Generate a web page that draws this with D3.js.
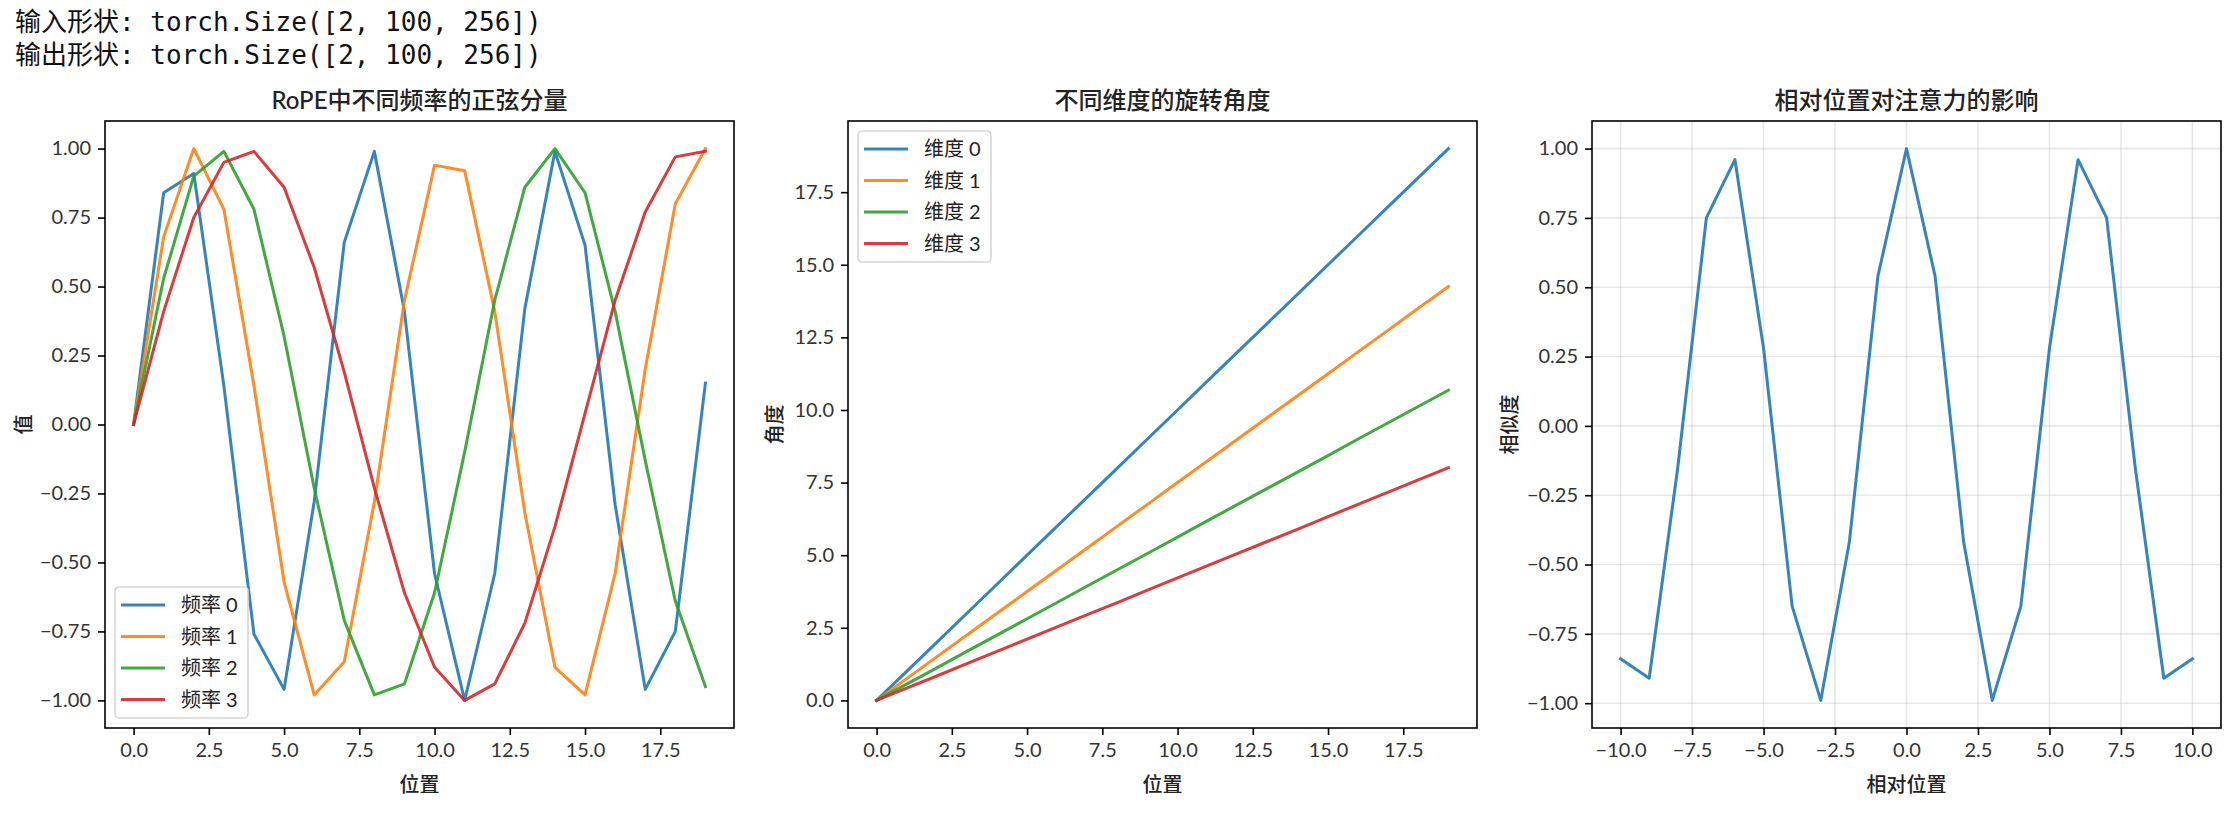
<!DOCTYPE html>
<html>
<head>
<meta charset="utf-8">
<script src="https://cdn.jsdelivr.net/npm/d3@7"></script>
<style>
  body { margin: 0; background: #fff; }
  svg text { font-family: 'Lato', 'Noto Sans CJK SC', sans-serif; fill: #222; }
  .mono { font-family: 'DejaVu Sans Mono', 'Noto Sans CJK SC', monospace; }
</style>
</head>
<body>
<svg id="fig" width="2238" height="818"></svg>
<script>
// printed output above the figure
const headerLines = ['输入形状: torch.Size([2, 100, 256])', '输出形状: torch.Size([2, 100, 256])'];

// panel 1: sine components at positions 0..19
const positions = [0,1,2,3,4,5,6,7,8,9,10,11,12,13,14,15,16,17,18,19];
const freq0 = [0,0.84,0.91,0.14,-0.76,-0.96,-0.28,0.66,0.99,0.41,-0.54,-1.00,-0.54,0.42,0.99,0.65,-0.29,-0.96,-0.75,0.15];
const freq1 = [0,0.68,1.00,0.78,0.14,-0.57,-0.98,-0.86,-0.28,0.45,0.94,0.92,0.41,-0.32,-0.88,-0.98,-0.54,0.20,0.80,1.00];
const freq2 = [0,0.53,0.90,0.99,0.78,0.32,-0.23,-0.71,-0.98,-0.94,-0.61,-0.10,0.45,0.86,1.00,0.84,0.41,-0.13,-0.64,-0.95];
const freq3 = [0,0.41,0.75,0.95,0.99,0.86,0.57,0.19,-0.23,-0.61,-0.88,-1.00,-0.94,-0.72,-0.37,0.04,0.45,0.77,0.97,0.99];
const freqNames = ['频率 0','频率 1','频率 2','频率 3'];

// panel 2: rotation angle per dimension
const dim0 = [0,1,2,3,4,5,6,7,8,9,10,11,12,13,14,15,16,17,18,19];
const dim1 = [0,0.75,1.50,2.25,3.00,3.75,4.50,5.25,6.00,6.75,7.50,8.25,9.00,9.75,10.50,11.25,12.00,12.75,13.50,14.25];
const dim2 = [0,0.56,1.12,1.69,2.25,2.81,3.37,3.94,4.50,5.06,5.62,6.19,6.75,7.31,7.87,8.43,9.00,9.56,10.12,10.68];
const dim3 = [0,0.42,0.84,1.27,1.69,2.11,2.53,2.95,3.37,3.80,4.22,4.64,5.06,5.48,5.90,6.33,6.75,7.17,7.59,8.01];
const dimNames = ['维度 0','维度 1','维度 2','维度 3'];

// panel 3: similarity vs relative position
const relPos = [-10,-9,-8,-7,-6,-5,-4,-3,-2,-1,0,1,2,3,4,5,6,7,8,9,10];
const similarity = [-0.84,-0.91,-0.15,0.75,0.96,0.28,-0.65,-0.99,-0.42,0.54,1.00,0.54,-0.42,-0.99,-0.65,0.28,0.96,0.75,-0.15,-0.91,-0.84];

const tickA = [0,2.5,5,7.5,10,12.5,15,17.5];
const tickUnit = [-1,-0.75,-0.5,-0.25,0,0.25,0.5,0.75,1];
const tickRel = [-10,-7.5,-5,-2.5,0,2.5,5,7.5,10];

const colors = ['#1f77b4','#ff7f0e','#2ca02c','#d62728'];

const svg = d3.select('#fig');

svg.selectAll('text.hdr').data(headerLines).enter().append('text')
    .attr('class','mono hdr')
    .attr('x', 15).attr('y', (d, i) => 31 + i*33)
    .style('font-size','26px').style('fill','#111')
    .text(d => d);

const axTop = 121, axBottom = 728, axW = 629;

function panel(opt) {
  const x = d3.scaleLinear().domain(opt.xd).range([opt.left, opt.left + axW]);
  const y = d3.scaleLinear().domain(opt.yd).range([axBottom, axTop]);
  const g = svg.append('g');

  if (opt.grid) {
    g.append('g').selectAll('line').data(opt.xt).enter().append('line')
        .attr('x1', d => x(d)).attr('x2', d => x(d)).attr('y1', axTop).attr('y2', axBottom)
        .attr('stroke','#b0b0b0').attr('stroke-opacity',0.3).attr('stroke-width',1.6);
    g.append('g').selectAll('line').data(opt.yt).enter().append('line')
        .attr('y1', d => y(d)).attr('y2', d => y(d)).attr('x1', opt.left).attr('x2', opt.left + axW)
        .attr('stroke','#b0b0b0').attr('stroke-opacity',0.3).attr('stroke-width',1.6);
  }

  const line = d3.line().x(d => x(d[0])).y(d => y(d[1]));
  opt.series.forEach((s, i) => {
    g.append('path')
        .datum(opt.xs.map((v, j) => [v, s[j]]))
        .attr('d', line)
        .attr('fill','none').attr('stroke', colors[i]).attr('stroke-opacity',0.9).attr('stroke-width',3)
        .attr('stroke-linejoin','round').attr('stroke-linecap','square');
  });

  const xAxis = d3.axisBottom(x).tickValues(opt.xt).tickFormat(d3.format(opt.xf)).tickSize(7).tickPadding(7);
  const yAxis = d3.axisLeft(y).tickValues(opt.yt).tickFormat(d3.format(opt.yf)).tickSize(7).tickPadding(7);
  const ax = g.append('g').attr('transform', `translate(0,${axBottom})`).call(xAxis);
  const ay = g.append('g').attr('transform', `translate(${opt.left},0)`).call(yAxis);
  [ax, ay].forEach(a => {
    a.select('.domain').remove();
    a.selectAll('line').attr('stroke','#000').attr('stroke-width',1.6);
    a.selectAll('text').style('font-size','20px').style('fill','#333').attr('font-family', null);
  });
  ax.selectAll('text').attr('dy','0.75em');

  g.append('rect')
      .attr('x', opt.left).attr('y', axTop).attr('width', axW).attr('height', axBottom - axTop)
      .attr('fill','none').attr('stroke','#000').attr('stroke-width',1.6);

  g.append('text').attr('x', opt.left + axW/2).attr('y', 109)
      .attr('text-anchor','middle').style('font-size','24px').style('font-weight',500)
      .text(opt.title);
  g.append('text').attr('x', opt.left + axW/2).attr('y', 792)
      .attr('text-anchor','middle').style('font-size','20px').style('font-weight',500)
      .text(opt.xlabel);
  g.append('text').attr('transform', `translate(${opt.ylx},${(axTop+axBottom)/2}) rotate(-90)`)
      .attr('text-anchor','middle').attr('dy','0.35em').style('font-size','20px').style('font-weight',500)
      .text(opt.ylabel);

  if (opt.names) {
    const lw = 133, lh = 131;
    const lx = opt.left + 10;
    const ly = opt.legendBottom ? axBottom - 10 - lh : axTop + 10;
    const lg = g.append('g').attr('transform', `translate(${lx},${ly})`);
    lg.append('rect').attr('width', lw).attr('height', lh).attr('rx', 4)
        .attr('fill','#fff').attr('fill-opacity',0.8).attr('stroke','#d6d6d6').attr('stroke-width',1.6);
    const rows = lg.selectAll('g.row').data(opt.names).enter().append('g')
        .attr('transform', (d, i) => `translate(0,${18 + i*31.5})`);
    rows.append('line').attr('x1', 6).attr('x2', 50)
        .attr('stroke', (d, i) => colors[i]).attr('stroke-opacity',0.9).attr('stroke-width',3);
    rows.append('text').attr('x', 66).attr('dy','0.35em').style('font-size','20px').text(d => d);
  }
}

panel({
  left: 105, xd: [-0.95, 19.95], yd: [-1.1, 1.1], xs: positions,
  series: [freq0, freq1, freq2, freq3], names: freqNames, legendBottom: true,
  xt: tickA, yt: tickUnit, xf: '.1f', yf: '.2f',
  title: 'RoPE中不同频率的正弦分量', xlabel: '位置', ylabel: '值', ylx: 24
});

panel({
  left: 848, xd: [-0.95, 19.95], yd: [-0.95, 19.95], xs: positions,
  series: [dim0, dim1, dim2, dim3], names: dimNames, legendBottom: false,
  xt: tickA, yt: tickA, xf: '.1f', yf: '.1f',
  title: '不同维度的旋转角度', xlabel: '位置', ylabel: '角度', ylx: 775
});

panel({
  left: 1592, xd: [-11, 11], yd: [-1.0895, 1.0995], xs: relPos,
  series: [similarity], grid: true,
  xt: tickRel, yt: tickUnit, xf: '.1f', yf: '.2f',
  title: '相对位置对注意力的影响', xlabel: '相对位置', ylabel: '相似度', ylx: 1510
});
</script>
</body>
</html>
